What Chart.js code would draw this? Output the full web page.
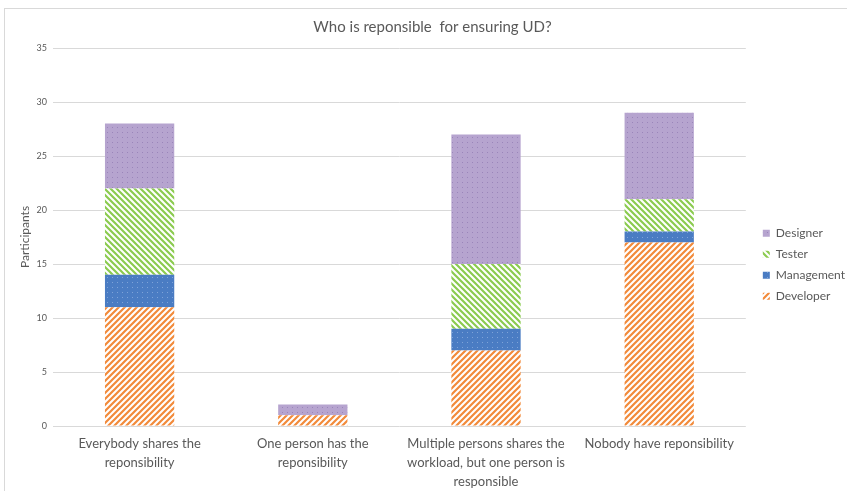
<!DOCTYPE html>
<html lang="en">
<head>
    <meta charset="UTF-8">
    <title>Who is reponsible for ensuring UD?</title>
    <style>
        body { margin: 0; background: #fff; overflow: hidden; }
        #moldura {
            position: absolute; left: 4px; top: 8px; right: 0; bottom: 0;
            border-top: 1px solid #d9d9d9; border-left: 1px solid #d9d9d9;
        }
        #caixa { position: absolute; left: 0; top: 0; width: 847px; height: 491px; }
    </style>
</head>
<body>
    <div id="moldura"></div>
    <div id="caixa">
        <canvas id="grafico1" width="847" height="491"></canvas>
    </div>

    <script src="https://cdn.jsdelivr.net/npm/chart.js"></script>

    <script>
        const categorias = [
            ['Everybody shares the', 'reponsibility'],
            ['One person has the', 'reponsibility'],
            ['Multiple persons shares the', 'workload, but one person is', 'responsible'],
            'Nobody have reponsibility'
        ]
        const developer  = [11, 1, 7, 17]
        const management = [3, 0, 2, 1]
        const tester     = [8, 0, 6, 3]
        const designer   = [6, 1, 12, 8]
        const ticksY = [0, 5, 10, 15, 20, 25, 30, 35]

        const fonte = 'Lato, "Open Sans", sans-serif'
        const cinza = '#595959'

        // padrões de preenchimento (listras e pontinhos)
        const listras = (cor, sentido) => {
            const c = document.createElement('canvas')
            c.width = 6; c.height = 6
            const g = c.getContext('2d')
            g.fillStyle = '#fff'
            g.fillRect(0, 0, 6, 6)
            g.strokeStyle = cor
            g.lineWidth = 2.2
            g.beginPath()
            if (sentido === '/') {
                g.moveTo(-1, 7); g.lineTo(7, -1)
                g.moveTo(-4, 4); g.lineTo(4, -4)
                g.moveTo(2, 10); g.lineTo(10, 2)
            } else {
                g.moveTo(-1, -1); g.lineTo(7, 7)
                g.moveTo(-4, 2); g.lineTo(4, 10)
                g.moveTo(2, -4); g.lineTo(10, 4)
            }
            g.stroke()
            return g.createPattern(c, 'repeat')
        }

        const pontos = (fundo, ponto) => {
            const c = document.createElement('canvas')
            c.width = 5; c.height = 5
            const g = c.getContext('2d')
            g.fillStyle = fundo
            g.fillRect(0, 0, 5, 5)
            g.fillStyle = ponto
            g.fillRect(2, 2, 1, 1)
            return g.createPattern(c, 'repeat')
        }

        // empurra a legenda um pouco para a direita, sem mexer na área do gráfico
        const empurraLegenda = {
            id: 'empurraLegenda',
            afterLayout: chart => {
                chart.legend.left += 8
                chart.legend.right += 8
            }
        }

        const ctx = document.getElementById('grafico1')

        let grafico1 = new Chart(ctx, {
            type: 'bar',
            data: {
                labels: categorias,
                datasets: [
                    { label: 'Developer', data: developer, backgroundColor: listras('#f28a3a', '/') },
                    { label: 'Management', data: management, backgroundColor: pontos('#4a7cc3', '#7fa3d8') },
                    { label: 'Tester', data: tester, backgroundColor: listras('#8bcb4f', '\\') },
                    { label: 'Designer', data: designer, backgroundColor: pontos('#b6a4cf', '#9a85ba') }
                ]
            },
            plugins: [empurraLegenda],
            options: {
                responsive: false,
                animation: false,
                layout: { padding: { left: 18, right: 0, top: 0, bottom: 0 } },
                datasets: { bar: { categoryPercentage: 1, barPercentage: 0.4 } },
                plugins: {
                    title: {
                        display: true,
                        text: 'Who is reponsible  for ensuring UD?',
                        color: cinza,
                        font: { family: fonte, size: 15, weight: 'normal' },
                        padding: { top: 18, bottom: 12 }
                    },
                    legend: {
                        position: 'right',
                        reverse: true,
                        title: { display: true, text: ' ', padding: 12, font: { size: 12 } },
                        labels: {
                            color: cinza,
                            font: { family: fonte, size: 12 },
                            boxWidth: 7,
                            boxHeight: 7,
                            padding: 9
                        }
                    },
                    tooltip: { enabled: false }
                },
                scales: {
                    x: {
                        stacked: true,
                        grid: { display: false, drawTicks: false },
                        border: { display: false },
                        afterFit: eixo => { eixo.height = 65 },
                        ticks: {
                            color: cinza,
                            maxRotation: 0,
                            autoSkip: false,
                            padding: 8,
                            font: { family: fonte, size: 13, lineHeight: 1.46 }
                        }
                    },
                    y: {
                        stacked: true,
                        min: 0,
                        max: 35,
                        afterBuildTicks: eixo => { eixo.ticks = ticksY.map(v => ({ value: v })) },
                        afterFit: eixo => { eixo.width = 35 },
                        grid: { color: '#d9d9d9', drawTicks: false },
                        border: { display: false },
                        ticks: {
                            color: cinza,
                            padding: 6,
                            font: { family: fonte, size: 9 }
                        },
                        title: {
                            display: true,
                            text: 'Participants',
                            color: cinza,
                            font: { family: fonte, size: 12 },
                            padding: 0
                        }
                    }
                }
            }
        })
    </script>
</body>
</html>
